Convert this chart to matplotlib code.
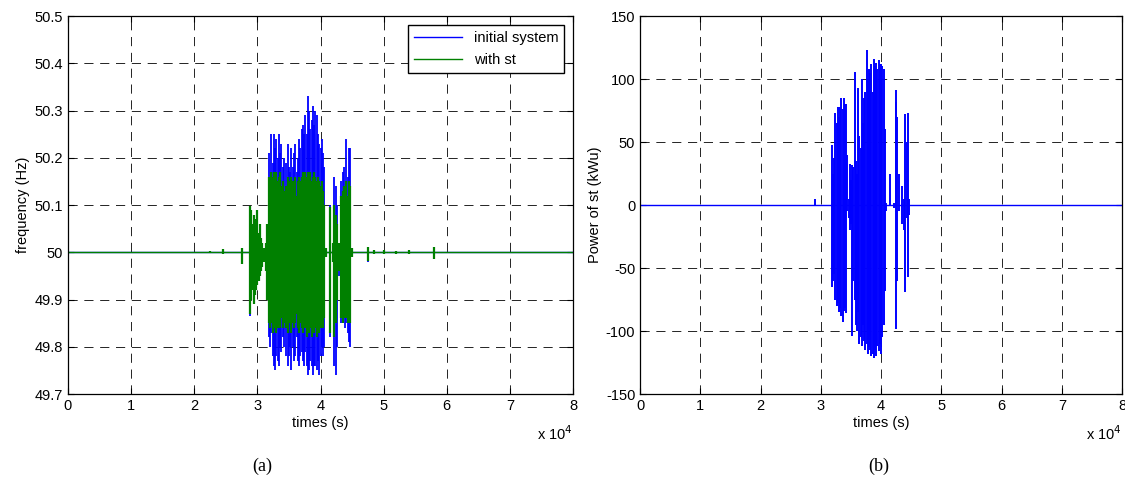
import matplotlib
matplotlib.use("Agg")
import matplotlib.pyplot as plt

plt.rcParams['font.family'] = ['Liberation Sans', 'DejaVu Sans']
plt.rcParams['axes.unicode_minus'] = False

# time axis is in units of 1e4 s
t_range = [0, 8]

# (a) frequency, initial system: spike time, max, min
f_init_t = [2.25, 2.45, 2.75, 2.88, 2.90, 2.92, 2.94, 2.96, 2.98, 3.00, 3.02, 3.04, 3.06, 3.08,
            3.18, 3.20, 3.22, 3.24, 3.26, 3.28, 3.30, 3.32, 3.34, 3.36, 3.38, 3.40, 3.42, 3.44,
            3.46, 3.48, 3.50, 3.52, 3.54, 3.56, 3.58, 3.60, 3.62, 3.64, 3.66, 3.68, 3.70, 3.72,
            3.74, 3.76, 3.78, 3.80, 3.82, 3.84, 3.86, 3.88, 3.90, 3.92, 3.94, 3.96, 3.98, 4.00,
            4.02, 4.04, 4.06, 4.08, 4.15, 4.20, 4.22, 4.24, 4.26, 4.30, 4.33, 4.35, 4.37, 4.39,
            4.41, 4.43, 4.45, 4.47, 4.50, 4.75, 5.80]
f_init_hi = [50.003, 50.007, 50.01, 50.09, 50.07, 50.05, 50.07, 50.06, 50.04, 50.08, 50.04, 50.05, 50.03, 50.02,
             50.21, 50.15, 50.25, 50.19, 50.25, 50.22, 50.24, 50.20, 50.25, 50.21, 50.23, 50.18, 50.20, 50.12,
             50.19, 50.23, 50.18, 50.17, 50.22, 50.18, 50.21, 50.23, 50.17, 50.20, 50.24, 50.22, 50.26, 50.27,
             50.25, 50.29, 50.25, 50.33, 50.30, 50.26, 50.28, 50.31, 50.27, 50.30, 50.29, 50.25, 50.23, 50.22,
             50.24, 50.21, 50.18, 50.01, 50.10, 50.02, 50.16, 50.14, 50.10, 50.02, 50.15, 50.17, 50.18, 50.14,
             50.24, 50.16, 50.22, 50.22, 50.01, 50.01, 50.012]
f_init_lo = [49.998, 49.996, 49.975, 49.865, 49.90, 49.92, 49.89, 49.91, 49.92, 49.93, 49.94, 49.95, 49.96, 49.97,
             49.82, 49.80, 49.83, 49.78, 49.76, 49.75, 49.78, 49.77, 49.76, 49.80, 49.79, 49.82, 49.80, 49.85,
             49.78, 49.76, 49.78, 49.80, 49.75, 49.80, 49.77, 49.78, 49.82, 49.77, 49.76, 49.78, 49.79, 49.77,
             49.76, 49.79, 49.76, 49.74, 49.75, 49.77, 49.76, 49.74, 49.76, 49.76, 49.75, 49.77, 49.74, 49.78,
             49.80, 49.78, 49.80, 49.99, 49.82, 49.98, 49.76, 49.74, 49.80, 49.95, 49.85, 49.86, 49.86, 49.84,
             49.85, 49.83, 49.81, 49.80, 49.99, 49.98, 49.985]

# (a) frequency, with st
f_st_t = [2.25, 2.45, 2.75, 2.88, 2.90, 2.92, 2.94, 2.96, 2.98, 3.00, 3.02, 3.04, 3.06, 3.08, 3.10,
          3.13, 3.16, 3.18, 3.20, 3.22, 3.24, 3.26, 3.28, 3.30, 3.32, 3.34, 3.36, 3.38, 3.40, 3.42,
          3.44, 3.46, 3.48, 3.50, 3.52, 3.54, 3.56, 3.58, 3.60, 3.62, 3.64, 3.66, 3.68, 3.70, 3.72,
          3.74, 3.76, 3.78, 3.80, 3.82, 3.84, 3.86, 3.88, 3.90, 3.92, 3.94, 3.96, 3.98, 4.00, 4.02,
          4.04, 4.06, 4.08, 4.15, 4.20, 4.22, 4.24, 4.26, 4.30, 4.33, 4.35, 4.37, 4.39, 4.41, 4.43,
          4.45, 4.47, 4.50, 4.75, 4.85, 5.00, 5.20, 5.40, 5.80]
f_st_hi = [50.003, 50.006, 50.01, 50.097, 50.09, 50.06, 50.08, 50.07, 50.05, 50.09, 50.04, 50.06, 50.03, 50.02, 50.01,
           50.02, 50.06, 50.16, 50.16, 50.17, 50.16, 50.17, 50.16, 50.17, 50.15, 50.16, 50.17, 50.14, 50.15, 50.13,
           50.10, 50.14, 50.16, 50.15, 50.14, 50.16, 50.15, 50.14, 50.16, 50.12, 50.15, 50.16, 50.15, 50.16, 50.17,
           50.16, 50.17, 50.16, 50.17, 50.16, 50.17, 50.15, 50.16, 50.17, 50.16, 50.15, 50.16, 50.15, 50.14, 50.15,
           50.13, 50.10, 50.01, 50.095, 50.02, 50.10, 50.08, 50.06, 50.02, 50.12, 50.13, 50.14, 50.10, 50.15, 50.12,
           50.15, 50.14, 50.01, 50.012, 50.004, 50.004, 50.003, 50.004, 50.012]
f_st_lo = [49.998, 49.996, 49.975, 49.87, 49.90, 49.92, 49.89, 49.91, 49.92, 49.93, 49.94, 49.95, 49.96, 49.97, 49.98,
           49.96, 49.90, 49.85, 49.84, 49.85, 49.83, 49.84, 49.85, 49.83, 49.84, 49.85, 49.84, 49.86, 49.84, 49.85,
           49.88, 49.84, 49.83, 49.85, 49.86, 49.83, 49.85, 49.84, 49.85, 49.87, 49.84, 49.83, 49.85, 49.84, 49.83,
           49.85, 49.84, 49.82, 49.84, 49.83, 49.84, 49.82, 49.84, 49.83, 49.84, 49.82, 49.84, 49.83, 49.84, 49.85,
           49.84, 49.86, 49.99, 49.83, 49.98, 49.82, 49.85, 49.90, 49.96, 49.86, 49.85, 49.87, 49.86, 49.86, 49.85,
           49.85, 49.85, 49.99, 49.982, 49.997, 49.996, 49.996, 49.997, 49.985]

# (b) power of st: spike time, max, min
p_t = [2.90, 3.18, 3.20, 3.22, 3.24, 3.26, 3.28, 3.30, 3.32, 3.34, 3.36, 3.38, 3.40, 3.42, 3.44,
       3.46, 3.48, 3.50, 3.52, 3.54, 3.56, 3.58, 3.60, 3.62, 3.64, 3.66, 3.68, 3.70, 3.72, 3.74,
       3.76, 3.78, 3.80, 3.82, 3.84, 3.86, 3.88, 3.90, 3.92, 3.94, 3.96, 3.98, 4.00, 4.02, 4.04,
       4.06, 4.08, 4.15, 4.22, 4.24, 4.25, 4.27, 4.30, 4.35, 4.38, 4.40, 4.43, 4.45, 4.47]
p_hi = [5, 48, 25, 37, 73, 65, 78, 70, 78, 85, 76, 85, 80, 80, 40,
        5, 33, 20, 32, 30, 106, 35, 25, 93, 55, 45, 100, 65, 85, 90,
        123, 100, 108, 105, 112, 90, 116, 110, 113, 108, 115, 112, 112, 110, 108,
        60, 2, 25, 2, 82, 91, 70, 25, 15, 5, 72, 50, 73, 5]
p_lo = [0, -65, -60, -55, -75, -80, -78, -85, -82, -88, -93, -84, -82, -86, -5,
        -10, -20, -15, -104, -60, -75, -95, -100, -85, -110, -105, -112, -95, -108, -115,
        -110, -118, -113, -115, -120, -118, -121, -115, -120, -112, -116, -110, -118, -105, -95,
        -68, -5, 0, -2, 0, -98, -60, -5, -15, -20, -69, -10, -57, -8]

blue = (0, 0, 1)
green = (0, 0.5, 0)


def style_axes(ax):
    ax.set_xlim(0, 8)
    ax.set_xticks(range(9))
    ax.tick_params(direction='in', top=True, right=True, length=4, labelsize=10.5, width=0.8)
    ax.grid(True, color='k', linestyle=(0, (11, 8)), linewidth=0.6)
    for s in ax.spines.values():
        s.set_linewidth(0.9)
    ax.text(1.0, -0.08, r'x 10$^4$', transform=ax.transAxes, ha='right', va='top', fontsize=10.5)


fig = plt.figure(figsize=(11.25, 4.8), dpi=100)
ax1 = fig.add_axes([0.0604, 0.179, 0.449, 0.7875])
ax2 = fig.add_axes([0.569, 0.179, 0.4284, 0.7875])

# (a)
ax1.plot(t_range, [50, 50], color=blue, lw=1, label='initial system')
ax1.vlines(f_init_t, f_init_lo, f_init_hi, color=blue, lw=1.3)
ax1.plot(t_range, [50, 50], color=green, lw=1, label='with st')
ax1.vlines(f_st_t, f_st_lo, f_st_hi, color=green, lw=1.6)
ax1.set_ylim(49.7, 50.5)
y1 = [49.7, 49.8, 49.9, 50.0, 50.1, 50.2, 50.3, 50.4, 50.5]
ax1.set_yticks(y1)
ax1.set_yticklabels(['49.7', '49.8', '49.9', '50', '50.1', '50.2', '50.3', '50.4', '50.5'])
ax1.set_xlabel('times (s)', fontsize=10.5, labelpad=2)
ax1.set_ylabel('frequency (Hz)', fontsize=10.5, labelpad=3)
style_axes(ax1)
leg = ax1.legend(loc='upper right', fontsize=10.5, frameon=True, fancybox=False,
                 edgecolor='k', framealpha=1, handlelength=3.3, borderaxespad=0.6,
                 labelspacing=0.6)
leg.get_frame().set_linewidth(1.0)

# (b)
ax2.plot(t_range, [0, 0], color=blue, lw=1)
ax2.vlines(p_t, p_lo, p_hi, color=blue, lw=1.4)
ax2.set_ylim(-150, 150)
ax2.set_yticks(range(-150, 151, 50))
ax2.set_xlabel('times (s)', fontsize=10.5, labelpad=2)
ax2.set_ylabel('Power of st (kWu)', fontsize=10.5, labelpad=3)
style_axes(ax2)

fig.text(262 / 1125, 1 - 466 / 480, '(a)', ha='center', va='center',
         family='Liberation Serif', fontsize=13)
fig.text(879 / 1125, 1 - 466 / 480, '(b)', ha='center', va='center',
         family='Liberation Serif', fontsize=13)

fig.savefig('out.png', dpi=100)
